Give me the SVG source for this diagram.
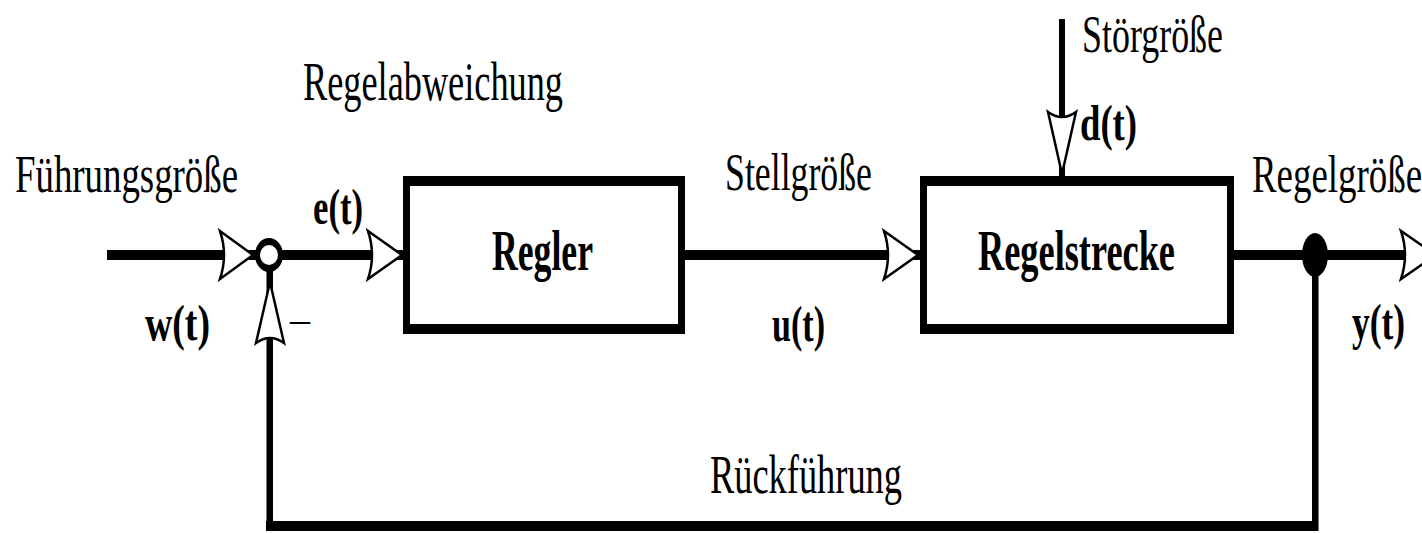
<svg xmlns="http://www.w3.org/2000/svg" width="1422" height="533" viewBox="0 0 1422 533">
<style>
.t{font-family:"Liberation Serif","Times New Roman",serif;fill:#000}
.b{font-weight:bold}
.ah{fill:#fff;stroke:#000;stroke-width:2.5;stroke-linejoin:miter}
</style>
<rect width="1422" height="533" fill="#fff"/>
<g id="connectors" fill="#000">
  <rect x="107" y="250" width="150" height="10"/>
  <rect x="280" y="250" width="124" height="10"/>
  <rect x="684" y="250" width="237" height="10"/>
  <rect x="1233" y="250" width="189" height="10"/>
  <rect x="1312" y="255" width="6.5" height="276"/>
  <rect x="266" y="521" width="1052" height="10"/>
  <rect x="266.5" y="268" width="6.5" height="263"/>
  <rect x="1059" y="19" width="6" height="158"/>
  <path class="ah" d="M253,255 L220,231 Q228,255 220,279 Z"/>
  <path class="ah" d="M402,255 L368,231 Q376,255 368,279 Z"/>
  <path class="ah" d="M918,255 L884,231 Q892,255 884,279 Z"/>
  <path class="ah" d="M1436,255 L1401,231 Q1409,255 1401,279 Z"/>
  <path class="ah" d="M270,282 L256,343 Q270,333 284,343 Z"/>
  <path class="ah" d="M1062,174 L1048,112 Q1062,122 1076,112 Z"/>
</g>
<g id="sum">
  <ellipse cx="269" cy="255" rx="14" ry="17" fill="#000"/>
  <ellipse cx="269" cy="255" rx="9" ry="10" fill="#fff"/>
</g>
<g id="branch">
  <ellipse cx="1315" cy="255" rx="13" ry="22" fill="#000"/>
</g>
<g id="regler">
  <rect x="403" y="176" width="282" height="158" fill="#000"/>
  <rect x="410" y="186" width="268" height="138" fill="#fff"/>
  <text class="t b" x="492" y="270" font-size="58" textLength="101" lengthAdjust="spacingAndGlyphs">Regler</text>
</g>
<g id="regelstrecke">
  <rect x="920" y="176" width="314" height="158" fill="#000"/>
  <rect x="927" y="186" width="300" height="138" fill="#fff"/>
  <text class="t b" x="978" y="270" font-size="58" textLength="197" lengthAdjust="spacingAndGlyphs">Regelstrecke</text>
</g>
<g id="labels">
  <text class="t" x="15" y="192" font-size="53" textLength="223" lengthAdjust="spacingAndGlyphs">Führungsgröße</text>
  <text class="t" x="303" y="100" font-size="55" textLength="260" lengthAdjust="spacingAndGlyphs">Regelabweichung</text>
  <text class="t" x="725" y="190" font-size="53" textLength="147" lengthAdjust="spacingAndGlyphs">Stellgröße</text>
  <text class="t" x="1082" y="52" font-size="53" textLength="141" lengthAdjust="spacingAndGlyphs">Störgröße</text>
  <text class="t" x="1252" y="192" font-size="53" textLength="170" lengthAdjust="spacingAndGlyphs">Regelgröße</text>
  <text class="t" x="710" y="493" font-size="54" textLength="192" lengthAdjust="spacingAndGlyphs">Rückführung</text>
  <text class="t b" x="313" y="224" font-size="50" textLength="50" lengthAdjust="spacingAndGlyphs">e(t)</text>
  <text class="t b" x="145" y="340" font-size="50" textLength="65" lengthAdjust="spacingAndGlyphs">w(t)</text>
  <text class="t b" x="772" y="341" font-size="50" textLength="53" lengthAdjust="spacingAndGlyphs">u(t)</text>
  <text class="t b" x="1352" y="339" font-size="50" textLength="53" lengthAdjust="spacingAndGlyphs">y(t)</text>
  <text class="t b" x="1080" y="140" font-size="50" textLength="57" lengthAdjust="spacingAndGlyphs">d(t)</text>
  <text class="t" x="290" y="332" font-size="40" textLength="20" lengthAdjust="spacingAndGlyphs">–</text>
</g>
</svg>
